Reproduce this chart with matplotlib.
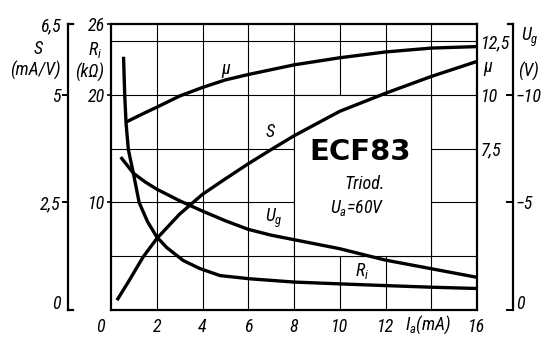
import numpy as np
import matplotlib
matplotlib.use("Agg")
import matplotlib.pyplot as plt
from matplotlib import font_manager
from matplotlib.patches import Rectangle
from matplotlib.transforms import ScaledTranslation

# ECF83 triode, Ua = 60 V
ia_ri = [0.55, 0.60, 0.66, 0.76, 0.98, 1.23, 1.6, 2.0, 2.44, 3.16, 3.89, 4.77, 6.08, 8.0, 10.0, 12.0, 14.0, 16.0]
ri = [23.4, 20.0, 17.3, 14.9, 12.7, 10.0, 8.2, 6.8, 5.8, 4.6, 3.85, 3.2, 2.9, 2.6, 2.43, 2.27, 2.12, 2.0]  # kOhm

ia_mu = [0.7, 1.0, 1.5, 2.0, 3.0, 4.0, 5.0, 6.0, 8.0, 10.0, 12.0, 14.0, 16.0]
mu = [8.76, 8.92, 9.18, 9.43, 9.95, 10.35, 10.7, 10.95, 11.4, 11.73, 12.0, 12.18, 12.25]

ia_s = [0.3, 0.8, 1.4, 2.0, 3.0, 4.0, 5.0, 6.0, 7.0, 8.0, 10.0, 12.0, 14.0, 16.0]
s = [0.26, 0.69, 1.23, 1.66, 2.23, 2.69, 3.05, 3.40, 3.73, 4.05, 4.62, 5.04, 5.43, 5.78]       # mA/V

ia_ug = [0.47, 0.98, 1.5, 2.0, 3.0, 4.0, 5.0, 6.0, 7.0, 8.0, 10.0, 12.0, 14.0, 16.0]
ug = [-7.05, -6.36, -5.95, -5.62, -5.08, -4.6, -4.15, -3.75, -3.48, -3.27, -2.85, -2.32, -1.92, -1.52]  # V

x_ticks = [0, 2, 4, 6, 8, 10, 12, 16]
grid_x = [2, 4, 6, 8, 10, 12, 14]
grid_y = [5, 10, 15, 20, 25]
YTOP = 26.6   # top of the frame in kOhm units

names = {f.name for f in font_manager.fontManager.ttflist}
fam = "DejaVu Sans"
for cand in ["Liberation Sans Narrow", "DejaVu Sans Condensed", "Roboto Condensed", "Liberation Sans"]:
    if cand in names:
        fam = cand
        break
plt.rcParams["font.family"] = [fam, "DejaVu Sans"]
plt.rcParams["font.style"] = "italic"
plt.rcParams["mathtext.fontset"] = "custom"
plt.rcParams["mathtext.it"] = fam + ":italic"
plt.rcParams["mathtext.rm"] = fam + ":italic"
FS = 13
W, H = 548, 337

fig = plt.figure(figsize=(W / 100, H / 100), dpi=100)
ax = fig.add_axes([111 / W, 1 - 310 / H, 366 / W, 286 / H])
ax.set_xlim(0, 16)
ax.set_ylim(0, YTOP)


def shift(lbl, dx, dy):
    lbl.set_transform(lbl.get_transform() + ScaledTranslation(dx / 100, dy / 100, fig.dpi_scale_trans))


# grid, blanked out behind the title block
ax.vlines(grid_x, 0, YTOP, color="black", lw=0.8, zorder=0.5)
ax.hlines(grid_y, 0, 16, color="black", lw=0.8, zorder=0.5)
ax.add_patch(Rectangle((8, 5), 6, 15, facecolor="white", edgecolor="black", lw=0.8, zorder=1))
for sp in ax.spines.values():
    sp.set_linewidth(1.6)

ax.set_xticks(x_ticks)
ax.set_xticklabels([str(v) for v in x_ticks], fontsize=FS)
ax.tick_params(axis="x", length=0, pad=6)
shift(ax.get_xticklabels()[0], -11, 0)

ax.set_yticks([10, 20, YTOP])
ax.set_yticklabels(["10", "20", "26"], fontsize=FS)
ax.tick_params(axis="y", direction="out", length=3, width=1.2, pad=1)
ax.yaxis.get_major_ticks()[-1].tick1line.set_visible(False)

ax.plot(ia_ri, ri, color="black", lw=2.4, zorder=3)

# mu scale (inner right)
ax_mu = ax.twinx()
ax_mu.set_ylim(0, YTOP / 2)
ax_mu.plot(ia_mu, mu, color="black", lw=2.4)
ax_mu.set_yticks([7.5, 10, 12.5])
ax_mu.set_yticklabels(["7,5", "10", "12,5"], fontsize=FS)
ax_mu.tick_params(axis="y", length=0, pad=3)
for sp in ax_mu.spines.values():
    sp.set_visible(False)

# S scale (outer left)
ax_s = ax.twinx()
ax_s.set_ylim(0, YTOP / 4)
ax_s.plot(ia_s, s, color="black", lw=2.4)
ax_s.yaxis.tick_left()
for k, sp in ax_s.spines.items():
    sp.set_visible(k == "left")
XS = -43 / 366
ax_s.spines["left"].set_position(("axes", XS))
ax_s.spines["left"].set_linewidth(1.6)
ax_s.set_yticks([0, 2.5, 5, YTOP / 4])
ax_s.set_yticklabels(["0", "2,5", "5", "6,5"], fontsize=FS)
ax_s.tick_params(axis="y", direction="out", length=4, width=1.4, pad=1)
ax_s.yaxis.get_major_ticks()[0].tick1line.set_visible(False)
ax_s.yaxis.get_major_ticks()[-1].tick1line.set_visible(False)
shift(ax_s.get_yticklabels()[0], 0, 8)
for yy in (0, 1):
    ax.plot([XS, XS + 5 / 366], [yy, yy], transform=ax.transAxes, clip_on=False, color="black", lw=1.6)

# Ug scale (outer right)
ax_g = ax.twinx()
ax_g.set_ylim(0, -YTOP / 2)
ax_g.plot(ia_ug, ug, color="black", lw=2.4)
for k, sp in ax_g.spines.items():
    sp.set_visible(k == "right")
XG = 1 + 36 / 366
ax_g.spines["right"].set_position(("axes", XG))
ax_g.spines["right"].set_linewidth(1.6)
ax_g.set_yticks([0, -5, -10])
ax_g.set_yticklabels(["0", "\u22125", "\u221210"], fontsize=FS)
ax_g.tick_params(axis="y", direction="in", length=5, width=1.4, pad=2)
shift(ax_g.get_yticklabels()[0], 0, 8)
ax.plot([XG - 5 / 366, XG], [1, 1], transform=ax.transAxes, clip_on=False, color="black", lw=1.6)

# curve labels and title block
ax.text(5.03, 22.4, "\u03bc", fontsize=FS, ha="center", va="center")
ax.text(6.96, 16.6, "S", fontsize=FS, ha="center", va="center")
ax.text(7.13, 8.5, "$U_g$", fontsize=FS, ha="center", va="center")
ax.text(10.98, 3.6, "$R_i$", fontsize=FS, ha="center", va="center")
ax.text(10.9, 14.7, "ECF83", fontsize=21, fontweight="bold", fontstyle="normal",
        family="DejaVu Sans", ha="center", va="center", zorder=5)
ax.text(11.1, 11.7, "Triod.", fontsize=FS, ha="center", va="center")
ax.text(10.77, 9.5, "$U_a$=60V", fontsize=FS, ha="center", va="center")


def ftext(px, py, t, **kw):
    fig.text(px / W, 1 - py / H, t, fontsize=FS, ha="center", va="center", **kw)


ftext(38, 49, "S")
ftext(35, 70, "(mA/V)")
ftext(95, 50, "$R_i$")
ftext(90, 72, "(k\u03a9)")
ftext(488, 67, "\u03bc")
ftext(530, 37, "$U_g$")
ftext(529, 71, "(V)")
ftext(428, 325, "$I_a$(mA)")

fig.savefig("out.png", dpi=100)
